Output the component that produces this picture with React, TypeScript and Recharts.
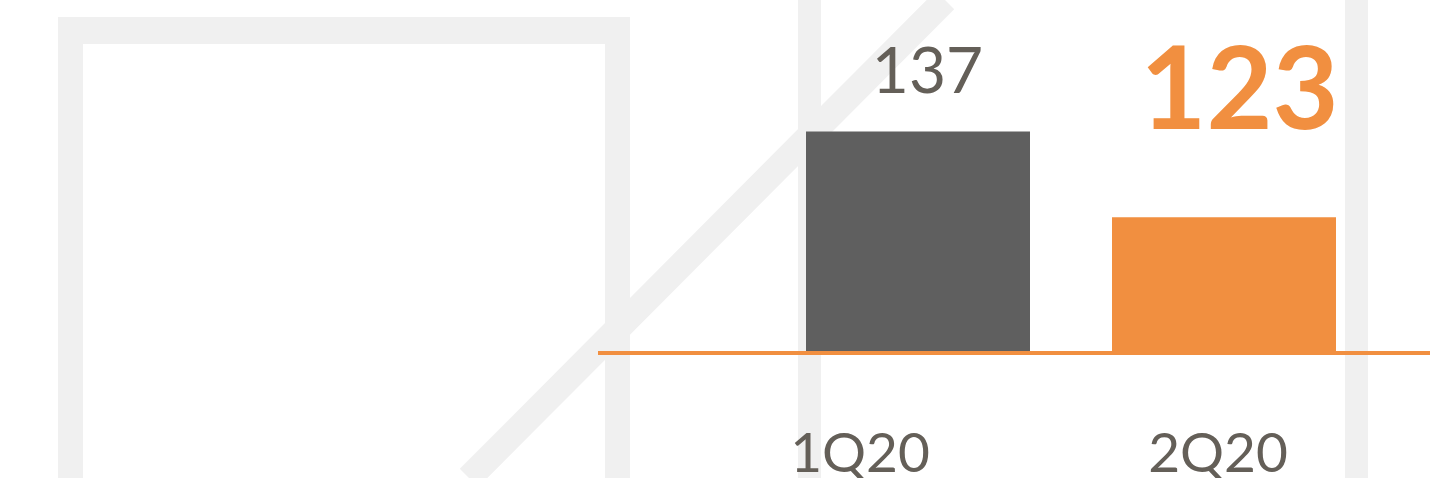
import React from "react";
import { BarChart, Bar, XAxis, YAxis, Cell } from "recharts";

const categories = ["1Q20", "2Q20"];
const values = [137, 123];
const barColors = ["#5f5f5f", "#f18f40"];
const yDomain: [number, number] = [100.8, 158.5];

const data = categories.map((c, i) => ({ name: c, value: values[i] }));

const TEXT = "#645f58";
const ORANGE = "#f18f40";
const WM = "#f0f0f0";

const labelStyles = [
  { dx: 9.5, dy: -39, size: 64, weight: 400, fill: TEXT },
  { dx: 15.5, dy: -88, size: 114, weight: 700, fill: ORANGE },
];
const tickDx = [-58, -6];

const ValueLabel = (props: any) => {
  const { x, y, width, value, index } = props;
  const s = labelStyles[index] || labelStyles[0];
  return (
    <text
      x={x + width / 2 + s.dx}
      y={y + s.dy}
      textAnchor="middle"
      fontFamily="Lato, 'Open Sans', sans-serif"
      fontSize={s.size}
      fontWeight={s.weight}
      fill={s.fill}
    >
      {value}
    </text>
  );
};

const Tick = (props: any) => {
  const { x, payload, index } = props;
  return (
    <text
      x={x + (tickDx[index] || 0)}
      y={472}
      textAnchor="middle"
      fontFamily="Lato, 'Open Sans', sans-serif"
      fontSize={55}
      fill={TEXT}
    >
      {payload.value}
    </text>
  );
};

export default function App() {
  return (
    <div style={{ position: "relative", width: 1430, height: 478, overflow: "hidden", background: "#fff" }}>
      <style>{`body{margin:0}`}</style>
      <svg width={1430} height={478} style={{ position: "absolute", left: 0, top: 0 }}>
        <path d="M58 478 V17 H630 V478 H605 V44 H83 V478 Z" fill={WM} />
        <line x1={469} y1={478} x2={945} y2={0} stroke={WM} strokeWidth={26} />
        <rect x={798} y={0} width={23} height={478} fill={WM} />
        <rect x={1345} y={0} width={23} height={478} fill={WM} />
      </svg>
      <div style={{ position: "absolute", left: 0, top: 0 }}>
        <BarChart
          width={1430}
          height={478}
          data={data}
          margin={{ top: 0, right: 0, bottom: 0, left: 598 }}
        >
          <XAxis
            dataKey="name"
            height={125}
            padding={{ left: 167, right: 53 }}
            axisLine={{ stroke: ORANGE, strokeWidth: 4 }}
            tickLine={false}
            tick={<Tick />}
            interval={0}
          />
          <YAxis hide domain={yDomain} allowDataOverflow />
          <Bar dataKey="value" barSize={224} isAnimationActive={false} label={<ValueLabel />}>
            {data.map((d, i) => (
              <Cell key={d.name} fill={barColors[i]} />
            ))}
          </Bar>
        </BarChart>
      </div>
    </div>
  );
}
